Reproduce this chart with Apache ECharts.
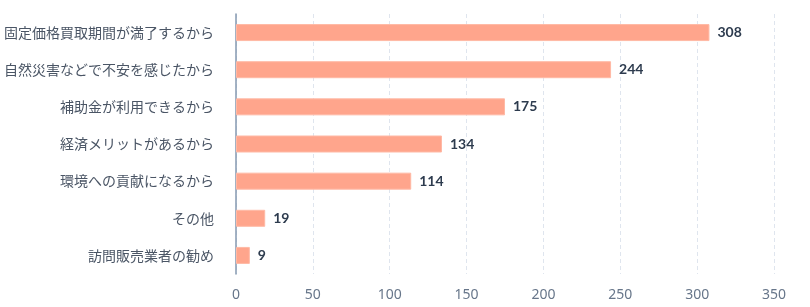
<!DOCTYPE html>
<html><head><meta charset="utf-8">
<script src="https://cdn.jsdelivr.net/npm/echarts@6/dist/echarts.min.js"></script>
<style>html,body{margin:0;padding:0;background:#fff}#c{width:810px;height:307px}</style>
</head><body><div id="c"></div>
<script>
const categories = ['固定価格買取期間が満了するから','自然災害などで不安を感じたから','補助金が利用できるから','経済メリットがあるから','環境への貢献になるから','その他','訪問販売業者の勧め'];
const values = [308,244,175,134,114,19,9];
const xTicks = [0,50,100,150,200,250,300,350];
const chart = echarts.init(document.getElementById('c'));
chart.setOption({
  animation:false,
  grid:{left:236,right:36,top:14,bottom:33,containLabel:false},
  xAxis:{type:'value',min:xTicks[0],max:xTicks[xTicks.length-1],interval:50,
    axisLine:{show:false},axisTick:{show:false},
    splitLine:{show:true,lineStyle:{color:'#dfe5ee',type:[4,3],width:1}},
    axisLabel:{color:'#67768a',fontSize:14,margin:14,fontFamily:'Noto Sans, sans-serif'}},
  yAxis:{type:'category',inverse:true,data:categories,
    axisLine:{show:true,lineStyle:{color:'#8599b0',width:1.5}},
    axisTick:{show:false},
    axisLabel:{color:'#4a5565',fontSize:14,margin:22,fontFamily:'Noto Sans CJK JP, sans-serif'}},
  series:[{type:'bar',data:values,barWidth:17,
    itemStyle:{color:'#ffa58c',borderColor:'#ffb9a5',borderWidth:1},
    label:{show:true,position:'right',distance:8,color:'#2d3b4e',fontWeight:'bold',fontSize:14,fontFamily:'Lato, sans-serif'}}]
});
</script></body></html>
